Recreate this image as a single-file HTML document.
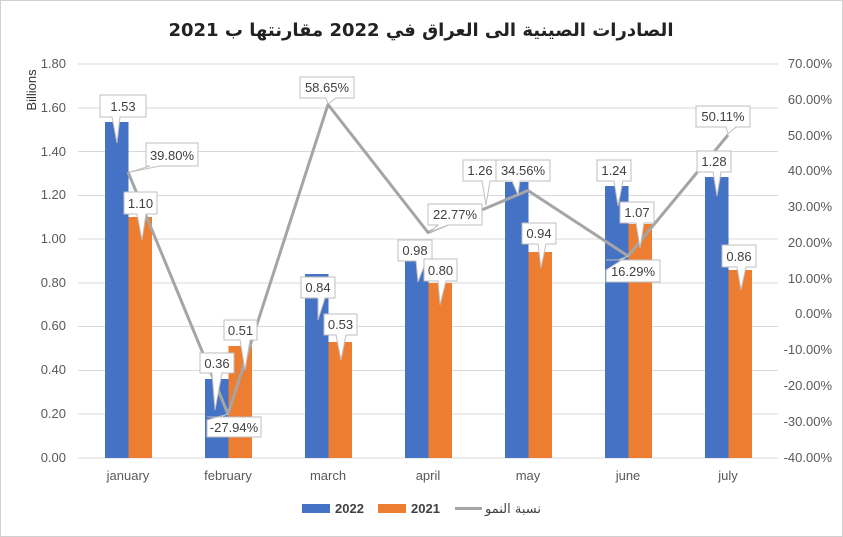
<!DOCTYPE html>
<html><head><meta charset="utf-8"><style>
body{margin:0;background:#fff}
svg{display:block;font-family:"Liberation Sans","Noto Sans CJK SC",sans-serif}
</style></head><body>
<svg width="843" height="537" viewBox="0 0 843 537" xmlns="http://www.w3.org/2000/svg">
<rect x="0.5" y="0.5" width="842" height="536" fill="#fff" stroke="#d0d0d0"/>
<text x="421" y="36" font-size="18" font-weight="bold" text-anchor="middle" fill="#222" font-family="'DejaVu Sans',sans-serif">الصادرات الصينية الى العراق في 2022 مقارنتها ب 2021</text>
<g stroke="#d9d9d9" stroke-width="1">
<line x1="78" x2="778" y1="64" y2="64"/><line x1="78" x2="778" y1="108" y2="108"/>
<line x1="78" x2="778" y1="151.5" y2="151.5"/><line x1="78" x2="778" y1="195.5" y2="195.5"/>
<line x1="78" x2="778" y1="239" y2="239"/><line x1="78" x2="778" y1="283" y2="283"/>
<line x1="78" x2="778" y1="326.5" y2="326.5"/><line x1="78" x2="778" y1="370.5" y2="370.5"/>
<line x1="78" x2="778" y1="414" y2="414"/><line x1="78" x2="778" y1="458" y2="458"/>
</g>
<g font-size="13" fill="#595959" text-anchor="end">
<text x="66" y="68">1.80</text><text x="66" y="112">1.60</text><text x="66" y="156">1.40</text>
<text x="66" y="199">1.20</text><text x="66" y="243">1.00</text><text x="66" y="287">0.80</text>
<text x="66" y="330">0.60</text><text x="66" y="374">0.40</text><text x="66" y="418">0.20</text><text x="66" y="462">0.00</text>
</g>
<g font-size="13" fill="#595959" text-anchor="end">
<text x="832" y="68">70.00%</text><text x="832" y="104">60.00%</text><text x="832" y="140">50.00%</text>
<text x="832" y="175">40.00%</text><text x="832" y="211">30.00%</text><text x="832" y="247">20.00%</text>
<text x="832" y="283">10.00%</text><text x="832" y="318">0.00%</text><text x="832" y="354">-10.00%</text>
<text x="832" y="390">-20.00%</text><text x="832" y="426">-30.00%</text><text x="832" y="462">-40.00%</text>
</g>
<text transform="translate(36,90) rotate(-90)" font-size="13" fill="#333" text-anchor="middle">Billions</text>
<g fill="#4472c4">
<rect x="105" y="122" width="23.5" height="336"/>
<rect x="205" y="379" width="23.5" height="79"/>
<rect x="305" y="274" width="23.5" height="184"/>
<rect x="405" y="243" width="23.5" height="215"/>
<rect x="505" y="182" width="23.5" height="276"/>
<rect x="605" y="186" width="23.5" height="272"/>
<rect x="705" y="177" width="23.5" height="281"/>
</g>
<g fill="#ed7d31">
<rect x="128.5" y="217" width="23.5" height="241"/>
<rect x="228.5" y="346" width="23.5" height="112"/>
<rect x="328.5" y="342" width="23.5" height="116"/>
<rect x="428.5" y="283" width="23.5" height="175"/>
<rect x="528.5" y="252" width="23.5" height="206"/>
<rect x="628.5" y="224" width="23.5" height="234"/>
<rect x="728.5" y="270" width="23.5" height="188"/>
</g>
<polyline points="128,172 228,414 328,104.5 428,232.5 528,190.5 628,256 728,135" fill="none" stroke="#a5a5a5" stroke-width="3" stroke-linejoin="round"/>
<g font-size="13" fill="#595959" text-anchor="middle">
<text x="128" y="480">january</text><text x="228" y="480">february</text><text x="328" y="480">march</text>
<text x="428" y="480">april</text><text x="528" y="480">may</text><text x="628" y="480">june</text><text x="728" y="480">july</text>
</g>
<g stroke="#bfbfbf" fill="#fff" stroke-width="1">
<polygon points="100,95 146,95 146,117 120,117 117,143 112,117 100,117"/>
<polygon points="146,143 198,143 198,166 160,166 130,172 150,166 146,166"/>
<polygon points="124,192 157,192 157,214 146,214 142,240 137,214 124,214"/>
<polygon points="200,353 234,353 234,373 222,373 215,410 212,373 200,373"/>
<polygon points="224,320 257,320 257,340 250,340 245,370 240,340 224,340"/>
<polygon points="207,417 261,417 261,437 207,437 207,420 228,414 220,417"/>
<polygon points="301,277 335,277 335,298 325,298 318,320 318,298 301,298"/>
<polygon points="300,77 354,77 354,98 336,98 328,104 326,98 300,98"/>
<polygon points="324,314 357,314 357,335 346,335 341,360 336,335 324,335"/>
<polygon points="398,240 432,240 432,261 426,261 418,282 416,261 398,261"/>
<polygon points="428,204 482,204 482,225 448,225 430,232 438,225 428,225"/>
<polygon points="424,259 457,259 457,281 446,281 440,305 438,281 424,281"/>
<polygon points="463,160 497,160 497,181 490,181 486,205 482,181 463,181"/>
<polygon points="496,160 550,160 550,181 520,181 518,195 512,181 496,181"/>
<polygon points="522,223 556,223 556,244 546,244 541,268 538,244 522,244"/>
<polygon points="597,160 631,160 631,181 623,181 618,206 614,181 597,181"/>
<polygon points="620,202 654,202 654,223 644,223 640,248 636,223 620,223"/>
<polygon points="606,260 660,260 660,282 606,282 606,270 628,256 618,260"/>
<polygon points="696,106 750,106 750,127 736,127 728,134 726,127 696,127"/>
<polygon points="697,151 731,151 731,172 721,172 717,196 713,172 697,172"/>
<polygon points="722,245 756,245 756,267 746,267 741,290 737,267 722,267"/>
</g>
<g font-size="13" fill="#404040" text-anchor="middle">
<text x="123" y="111">1.53</text><text x="172" y="160">39.80%</text><text x="140.5" y="208">1.10</text>
<text x="217" y="368">0.36</text><text x="240.5" y="335">0.51</text><text x="234" y="432">-27.94%</text>
<text x="318" y="292">0.84</text><text x="327" y="92">58.65%</text><text x="340.5" y="329">0.53</text>
<text x="415" y="255">0.98</text><text x="455" y="219">22.77%</text><text x="440.5" y="275">0.80</text>
<text x="480" y="175">1.26</text><text x="523" y="175">34.56%</text><text x="539" y="238">0.94</text>
<text x="614" y="175">1.24</text><text x="637" y="217">1.07</text><text x="633" y="276">16.29%</text>
<text x="723" y="121">50.11%</text><text x="714" y="166">1.28</text><text x="739" y="261">0.86</text>
</g>
<rect x="302" y="504" width="28" height="9" fill="#4472c4"/>
<text x="335" y="513" font-size="13" font-weight="bold" fill="#404040">2022</text>
<rect x="378" y="504" width="28" height="9" fill="#ed7d31"/>
<text x="411" y="513" font-size="13" font-weight="bold" fill="#404040">2021</text>
<line x1="455" x2="482" y1="508.5" y2="508.5" stroke="#a5a5a5" stroke-width="3"/>
<text x="513" y="513" font-size="13" fill="#404040" text-anchor="middle" font-family="'DejaVu Sans',sans-serif">نسبة النمو</text>
</svg>
</body></html>
